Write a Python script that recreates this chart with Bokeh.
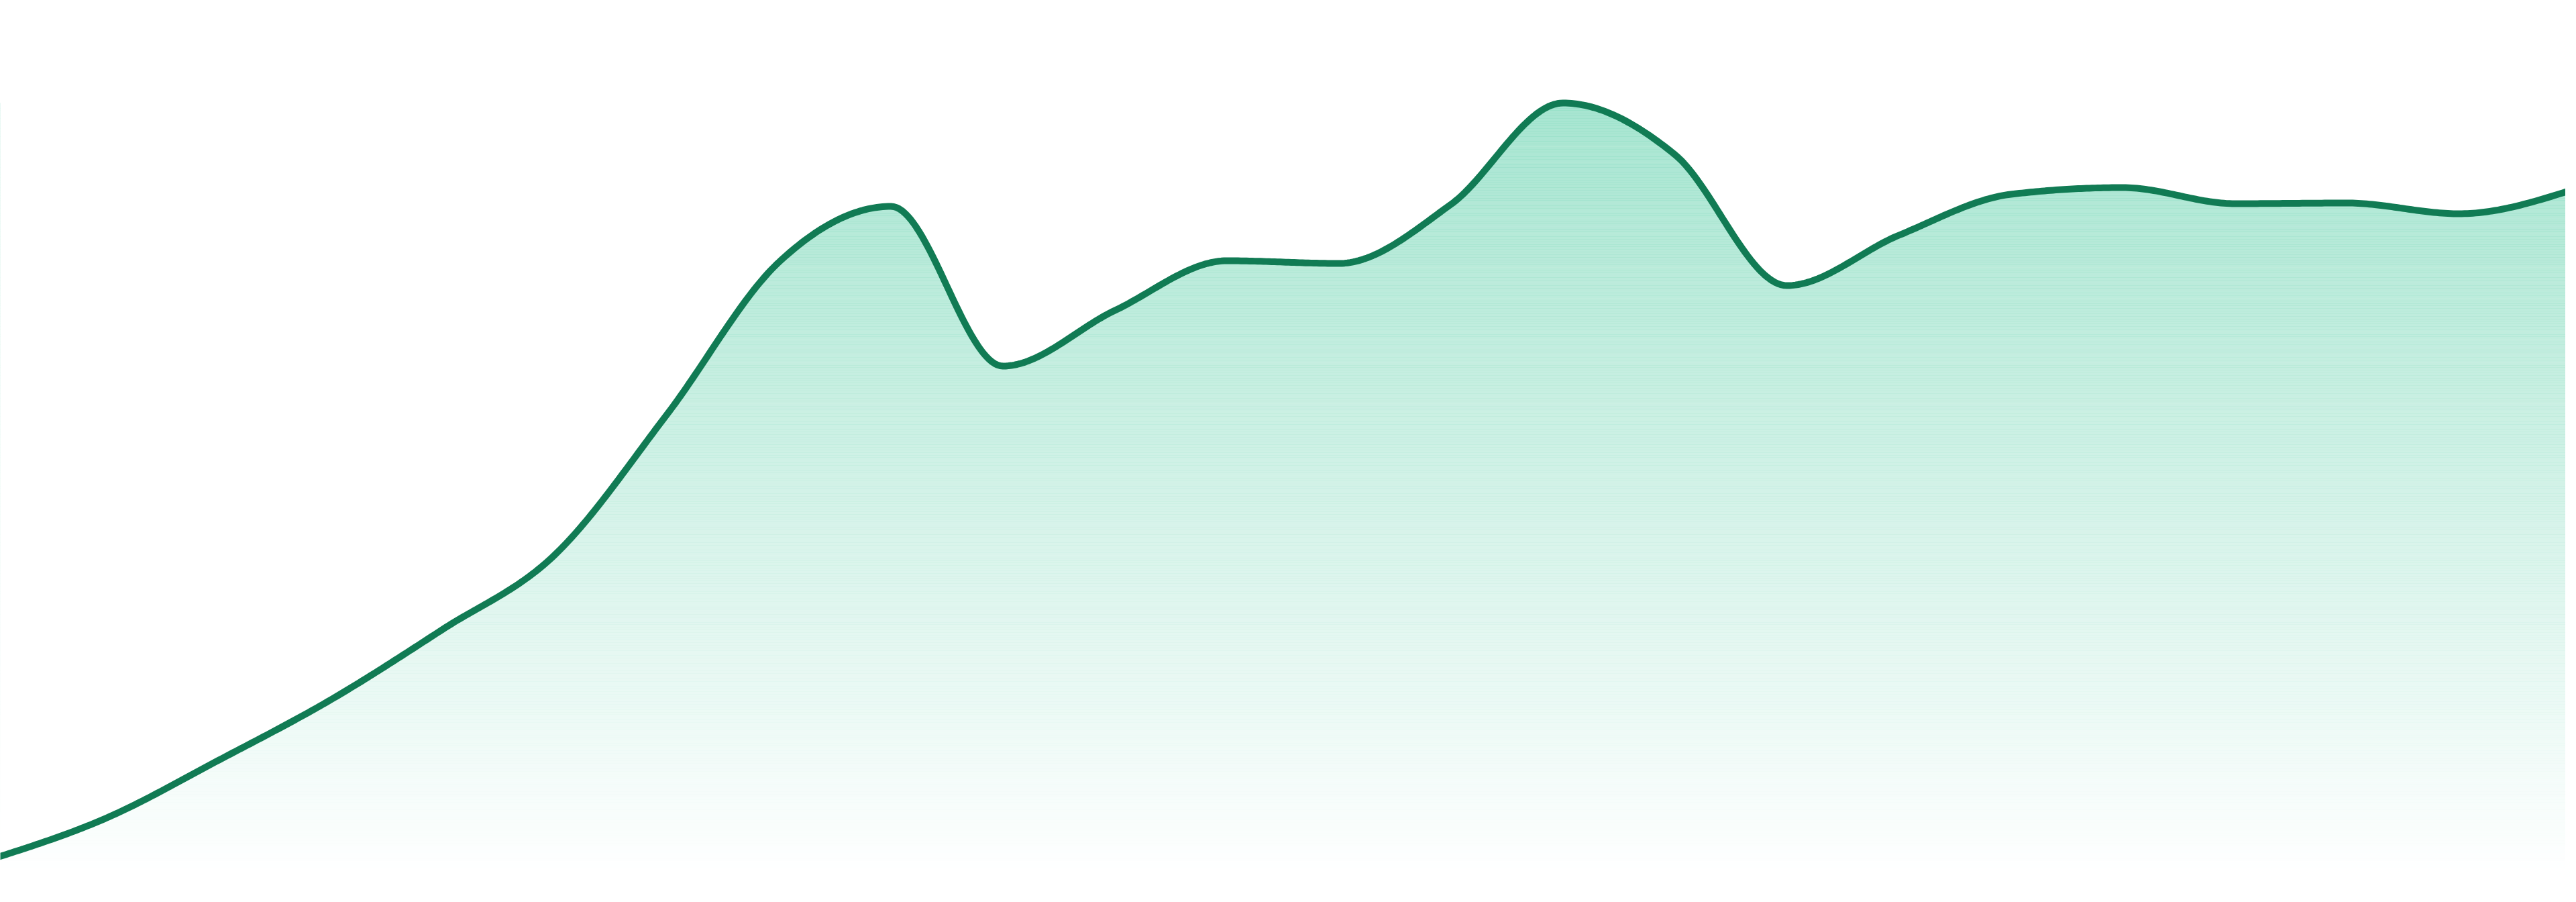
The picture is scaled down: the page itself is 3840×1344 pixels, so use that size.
import numpy as np
from bokeh.plotting import figure
from bokeh.models import Range1d, ColumnDataSource
from bokeh.embed import file_html
from bokeh.resources import INLINE

# ---- data ----
points = list(range(24))
values = [2.4, 8.4, 17.0, 26.0, 36.5, 47.6, 68.5, 91.2, 99.5, 75.7, 84.0, 91.4,
          91.0, 99.8, 114.9, 107.2, 87.7, 95.2, 101.3, 102.3, 99.9, 100.0, 98.4, 101.9]

LINE_COLOR = "#117b54"
FILL_RGB = (16, 185, 129)
TOP_ALPHA = 0.37


def monotone_curve(x, y, n=40):
    """Monotone cubic (d3 curveMonotoneX) through the points."""
    x = np.asarray(x, float)
    y = np.asarray(y, float)
    h = np.diff(x)
    s = np.diff(y) / h
    m = np.zeros_like(y)
    for i in range(1, len(y) - 1):
        if s[i - 1] * s[i] <= 0:
            m[i] = 0.0
        else:
            p = (s[i - 1] * h[i] + s[i] * h[i - 1]) / (h[i - 1] + h[i])
            m[i] = np.sign(p) * min(abs(p), 2 * abs(s[i - 1]), 2 * abs(s[i]))
    m[0] = (3 * s[0] - m[1]) / 2
    m[-1] = (3 * s[-1] - m[-2]) / 2
    xs, ys = [], []
    for i in range(len(h)):
        t = np.linspace(0, 1, n, endpoint=False)
        h00 = 2 * t**3 - 3 * t**2 + 1
        h10 = t**3 - 2 * t**2 + t
        h01 = -2 * t**3 + 3 * t**2
        h11 = t**3 - t**2
        xs.append(x[i] + t * h[i])
        ys.append(h00 * y[i] + h10 * h[i] * m[i] + h01 * y[i + 1] + h11 * h[i] * m[i + 1])
    xs.append([x[-1]])
    ys.append([y[-1]])
    return np.concatenate(xs), np.concatenate(ys)


cx, cy = monotone_curve(points, values)

Y_BOTTOM, Y_TOP = -2.6, 130.2
p = figure(width=3824, height=1328, output_backend="svg", toolbar_location=None,
           x_range=Range1d(0.0479, 22.952), y_range=Range1d(Y_BOTTOM, Y_TOP),
           min_border=0)
p.axis.visible = False
p.grid.visible = False
p.outline_line_color = None
p.background_fill_color = "white"
p.border_fill_color = "white"

# vertical gradient built from thin horizontal bands
vmax = max(values)
nb = 300
edges = np.linspace(0, vmax, nb + 1)
mids = (edges[:-1] + edges[1:]) / 2
alphas = TOP_ALPHA * mids / vmax
band_src = ColumnDataSource(dict(
    left=[-1] * nb, right=[24] * nb,
    bottom=edges[:-1], top=edges[1:] + 0.02,
    alpha=alphas,
))
p.quad(left="left", right="right", bottom="bottom", top="top", source=band_src,
       fill_color="rgb(%d,%d,%d)" % FILL_RGB, fill_alpha="alpha", line_color=None)

# white mask above the curve
p.varea(x=cx, y1=cy, y2=[Y_TOP + 5] * len(cx), fill_color="white", fill_alpha=1.0)

# the line
p.line(cx, cy, line_color=LINE_COLOR, line_width=10, line_join="round")

open("out.html", "w").write(file_html(p, INLINE))
